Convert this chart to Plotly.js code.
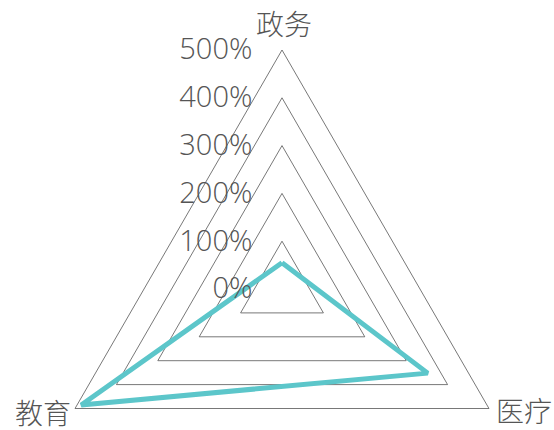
<!DOCTYPE html>
<html>
<head>
<meta charset="utf-8">
<script src="https://cdn.plot.ly/plotly-3.0.1.min.js"></script>
<style>
html,body{margin:0;padding:0;overflow:hidden;background:#fff;}
#chart{width:554px;height:528px;}
</style>
</head>
<body>
<div id="chart"></div>
<script>
const categories = ['政务', '医疗', '教育'];
const values = [55, 352, 485];
const tickVals = [0, 100, 200, 300, 400, 500];
const tickText = ['0%', '100%', '200%', '300%', '400%', '500%'];

// label placement for each category (paper coords)
const labelPos = [
  {x: 0.504, y: 1.056, xanchor: 'center'},
  {x: 0.944, y: 0.247, xanchor: 'left'},
  {x: 0.063, y: 0.243, xanchor: 'right'}
];

const trace = {
  type: 'scatterpolar',
  r: values.concat([values[0]]),
  theta: categories.concat([categories[0]]),
  mode: 'lines',
  line: {color: '#5cc6ca', width: 5},
  hoverinfo: 'none'
};

const annotations = categories.map((c, i) => ({
  text: c,
  xref: 'paper', yref: 'paper',
  x: labelPos[i].x, y: labelPos[i].y,
  xanchor: labelPos[i].xanchor, yanchor: 'middle',
  showarrow: false,
  font: {size: 28, color: '#555', weight: 300, family: '"Noto Sans CJK SC", sans-serif'}
}));

const layout = {
  width: 554,
  height: 528,
  margin: {l: 43, r: 33, t: 50, b: 0},
  paper_bgcolor: '#fff',
  showlegend: false,
  font: {family: '"Open Sans", "Noto Sans CJK SC", sans-serif', color: '#555'},
  annotations: annotations,
  polar: {
    bgcolor: 'rgba(0,0,0,0)',
    gridshape: 'linear',
    radialaxis: {
      range: [0, 500],
      tickvals: tickVals,
      ticktext: tickText,
      angle: 90,
      tickangle: 90,
      side: 'counterclockwise',
      showline: false,
      ticks: 'outside',
      ticklen: 19,
      tickcolor: 'rgba(0,0,0,0)',
      gridcolor: '#555',
      gridwidth: 0.8,
      tickfont: {size: 29, color: '#555', weight: 300, family: '"Open Sans", sans-serif'}
    },
    angularaxis: {
      rotation: 90,
      direction: 'clockwise',
      showgrid: false,
      showticklabels: false,
      ticks: '',
      linecolor: '#555',
      linewidth: 0.8
    }
  }
};

Plotly.newPlot('chart', [trace], layout, {displayModeBar: false, staticPlot: true});
</script>
</body>
</html>
